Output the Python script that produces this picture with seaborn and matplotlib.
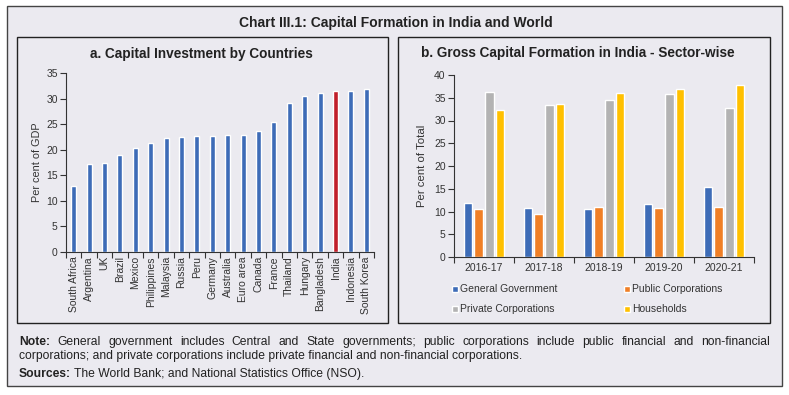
import matplotlib
matplotlib.use("Agg")
import matplotlib.pyplot as plt
from matplotlib.patches import Rectangle
import numpy as np
import pandas as pd
import seaborn as sns

# ---------------- data ----------------
countries = ["South Africa", "Argentina", "UK", "Brazil", "Mexico", "Philippines",
             "Malaysia", "Russia", "Peru", "Germany", "Australia", "Euro area",
             "Canada", "France", "Thailand", "Hungary", "Bangladesh", "India",
             "Indonesia", "South Korea"]
investment = [13.0, 17.2, 17.5, 19.0, 20.3, 21.3, 22.3, 22.5, 22.7, 22.7, 22.8,
              22.9, 23.7, 25.4, 29.1, 30.6, 31.0, 31.4, 31.5, 31.9]

years = ["2016-17", "2017-18", "2018-19", "2019-20", "2020-21"]
sectors = ["General Government", "Public Corporations", "Private Corporations", "Households"]
general_govt = [11.8, 10.8, 10.5, 11.6, 15.4]
public_corp = [10.6, 9.5, 11.0, 10.8, 10.9]
private_corp = [36.2, 33.5, 34.4, 35.9, 32.8]
households = [32.4, 33.6, 36.0, 36.9, 37.9]

title = "Chart III.1: Capital Formation in India and World"
title_a = "a. Capital Investment by Countries"
title_b = "b. Gross Capital Formation in India - Sector-wise"
note_line1 = ("General government includes Central and State governments; public corporations "
              "include public financial and non-financial")
note_line2 = "corporations; and private corporations include private financial and non-financial corporations."
sources = "The World Bank; and National Statistics Office (NSO)."

# ---------------- style ----------------
sns.set_theme(style="white")
plt.rcParams["font.family"] = ["Liberation Sans", "DejaVu Sans"]
BG = "#EBEAF0"
DARK = "#333333"
BLUE = "#3D6CB7"
RED = "#C1202A"
sector_colors = ["#3D6CB7", "#F07F26", "#B3B3B3", "#FFC000"]

W, H = 789, 395
fig = plt.figure(figsize=(W / 100, H / 100), dpi=100, facecolor="white")


def fx(px):
    return px / W


def fy(py):
    return 1 - py / H


# outer frame and panel boxes
fig.patches.append(Rectangle((fx(7), fy(386)), fx(782) - fx(7), fy(6) - fy(386),
                             transform=fig.transFigure, facecolor=BG, edgecolor="#444444",
                             lw=1.0, zorder=-2))
for (x0, x1) in [(17, 388), (398, 770)]:
    fig.patches.append(Rectangle((fx(x0), fy(323)), fx(x1) - fx(x0), fy(37) - fy(323),
                                 transform=fig.transFigure, facecolor=BG, edgecolor="#222222",
                                 lw=1.0, zorder=-1))

fig.text(fx(396), fy(27.3), title, ha="center", va="baseline", fontsize=10,
         fontweight="bold", color="#222222")
fig.text(fx(201), fy(57.7), title_a, ha="center", va="baseline", fontsize=9.8,
         fontweight="bold", color="#222222")
fig.text(fx(577.5), fy(56.7), title_b, ha="center", va="baseline", fontsize=9.8,
         fontweight="bold", color="#222222")

# ---------------- left panel ----------------
ax1 = fig.add_axes([fx(66), fy(252), fx(374) - fx(66), fy(73) - fy(252)])
ax1.set_facecolor("none")
df1 = pd.DataFrame({"Country": countries, "Value": investment})
pal1 = {c: (RED if c == "India" else BLUE) for c in countries}
sns.barplot(data=df1, x="Country", y="Value", hue="Country", palette=pal1,
            legend=False, width=0.32, saturation=1, ax=ax1)
ax1.set_xlim(-0.5, len(countries) - 0.5)
ax1.set_ylim(0, 35)
ax1.set_yticks(np.arange(0, 36, 5))
ax1.set_xlabel("")
ax1.set_ylabel("Per cent of GDP", fontsize=7.8, color=DARK, labelpad=3)
ax1.tick_params(axis="x", which="major", length=0, labelsize=7.5, labelcolor=DARK,
                rotation=90, pad=3)
ax1.set_xticks(np.arange(-0.5, len(countries), 1), minor=True)
ax1.tick_params(axis="x", which="minor", length=4, width=0.8, color=DARK, direction="out",
                bottom=True)
ax1.tick_params(axis="y", length=4, width=0.8, color=DARK, labelsize=7.5,
                labelcolor=DARK, direction="out", left=True, pad=2)
sns.despine(ax=ax1)
for s in ["left", "bottom"]:
    ax1.spines[s].set_color(DARK)
    ax1.spines[s].set_linewidth(0.8)

# ---------------- right panel ----------------
ax2 = fig.add_axes([fx(454), fy(257), fx(754) - fx(454), fy(75) - fy(257)])
ax2.set_facecolor("none")
df2 = pd.DataFrame({
    "Year": np.repeat(years, len(sectors)),
    "Sector": sectors * len(years),
    "Value": np.ravel(np.column_stack([general_govt, public_corp, private_corp, households])),
})
sns.barplot(data=df2, x="Year", y="Value", hue="Sector", hue_order=sectors,
            palette=sector_colors, width=0.71, gap=0.16, saturation=1, ax=ax2)
ax2.set_xlim(-0.5, len(years) - 0.5)
ax2.set_ylim(0, 40)
ax2.set_yticks(np.arange(0, 41, 5))
ax2.set_xlabel("")
ax2.set_ylabel("Per cent of Total", fontsize=8.2, color=DARK, labelpad=5)
ax2.tick_params(axis="x", which="major", length=0, labelsize=7.5, labelcolor=DARK, pad=4)
ax2.set_xticks(np.arange(-0.5, len(years), 1), minor=True)
ax2.tick_params(axis="x", which="minor", length=4, width=0.8, color=DARK, direction="out",
                bottom=True)
ax2.tick_params(axis="y", length=4, width=0.8, color=DARK, labelsize=7.5,
                labelcolor=DARK, direction="out", left=True, pad=2)
sns.despine(ax=ax2)
for s in ["left", "bottom"]:
    ax2.spines[s].set_color(DARK)
    ax2.spines[s].set_linewidth(0.8)

handles, labels = ax2.get_legend_handles_labels()
ax2.get_legend().remove()
# row-wise order (GG, PC / Private, HH) with column-major filling
order = [0, 2, 1, 3]
leg = ax2.legend([handles[i] for i in order], [labels[i] for i in order], ncol=2,
                 loc="upper left",
                 bbox_to_anchor=(fx(452), fy(284.5)), bbox_transform=fig.transFigure,
                 frameon=False, fontsize=7.5, handlelength=0.55, handleheight=0.55,
                 handletextpad=0.2, columnspacing=6.4, labelspacing=0.95,
                 borderpad=0, borderaxespad=0)
for t in leg.get_texts():
    t.set_color(DARK)

# ---------------- notes ----------------
renderer = fig.canvas.get_renderer()
NOTE_FS = 8.7
note_font = ["Liberation Sans", "DejaVu Sans"]


def word_width(txt, **kw):
    t = fig.text(0, 0, txt, fontsize=NOTE_FS, family=note_font, **kw)
    w = t.get_window_extent(renderer).width
    t.remove()
    return w


# line 1, justified from x=19 to x=770
words = [("Note:", "bold")] + [(w, "normal") for w in note_line1.split()]
widths = [word_width(w, fontweight=fw) for w, fw in words]
gap = (770 - 19 - sum(widths)) / (len(words) - 1)
x = 19
for (w, fw), wd in zip(words, widths):
    fig.text(fx(x), fy(345), w, fontsize=NOTE_FS, family=note_font, fontweight=fw,
             color="#222222", va="baseline", ha="left")
    x += wd + gap

fig.text(fx(19), fy(359.5), note_line2, fontsize=NOTE_FS, family=note_font,
         color="#222222", va="baseline", ha="left")
bw = word_width("Sources:", fontweight="bold")
fig.text(fx(19), fy(377), "Sources:", fontsize=NOTE_FS, family=note_font,
         fontweight="bold", color="#222222", va="baseline", ha="left")
fig.text(fx(19 + bw + 3), fy(377), sources, fontsize=NOTE_FS, family=note_font,
         color="#222222", va="baseline", ha="left")

fig.savefig("out.png", dpi=100, facecolor="white")
